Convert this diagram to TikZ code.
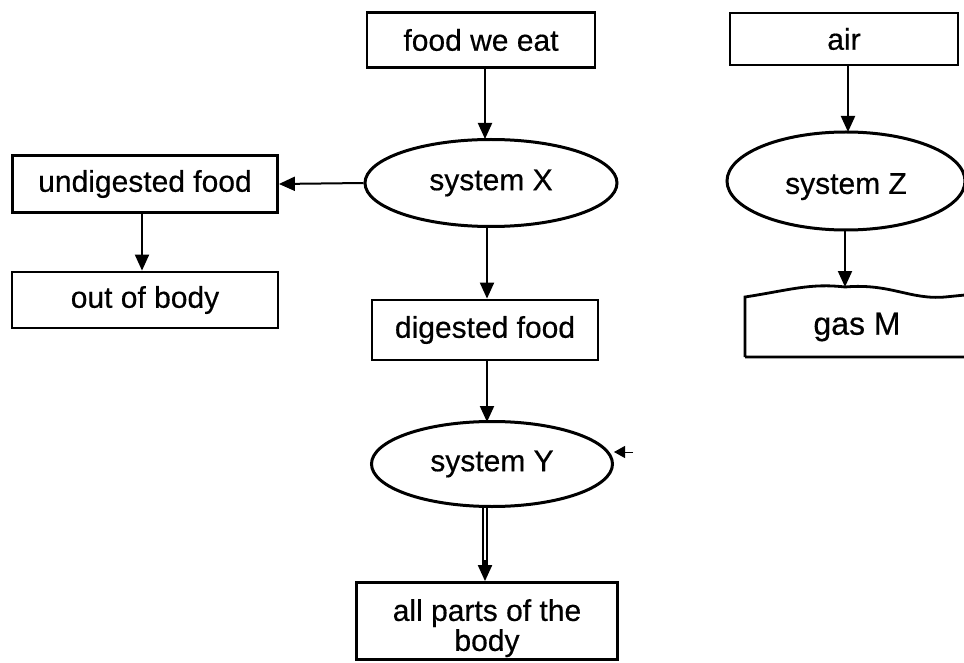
\documentclass[tikz,border=0pt]{standalone}
\usepackage{fontspec}
\setmainfont{Liberation Sans}
\newfontfamily\diagfont{Liberation Sans}[FakeBold=0.5]
\usetikzlibrary{shapes.geometric,arrows.meta}

\tikzset{
  box/.style={draw,line width=2.8pt,inner sep=0pt,align=center,
    font=\diagfont\fontsize{30}{30}\selectfont},
  sys/.style={draw,ellipse,line width=3pt,inner sep=0pt,
    font=\diagfont\fontsize{30}{32}\selectfont},
  flow/.style={line width=2pt,-{Triangle[length=16pt,width=14pt]}}
}

\begin{document}
\begin{tikzpicture}[x=1pt,y=-1pt]
    \useasboundingbox (0,0) rectangle (964,663);
    % digestion column
    \node[box,minimum width=228pt,minimum height=55pt](food) at (481,40){food we eat};
    \node[sys,minimum width=252pt,minimum height=87pt](sysX) at (491,183){system X};
    \node[box,minimum width=226pt,minimum height=60pt](digested) at (485,330){digested food};
    \node[sys,minimum width=241pt,minimum height=85pt](sysY) at (492,464){system Y};
    \node[box,minimum width=261pt,minimum height=77pt](body) at (487,621){\rule{0pt}{36pt}all parts of the\\body};
    % left side
    \node[box,minimum width=265pt,minimum height=57pt](undigested) at (145,184){undigested food};
    \node[box,minimum width=266pt,minimum height=56pt](out) at (145,300){out of body};
    % breathing column
    \node[box,minimum width=228pt,minimum height=52pt](air) at (844,39){air};
    \node[sys,minimum width=238pt,minimum height=98pt,text height=32pt](sysZ) at (846,181){system Z};
    \node[font=\diagfont\fontsize{32}{34}\selectfont,inner sep=0pt](gas) at (857,327){gas M};
    \coordinate (gastop) at (845,287);
    \draw[line width=2.8pt] (745,357) -- (745,297)
      .. controls (790,290) and (810,283) .. (gastop)
      .. controls (890,283) and (910,300) .. (945,297) -- (975,294)
      (745,357) -- (975,357);

    \draw[flow] (food.south -| 485,0) -- (485,139);
    \draw[flow] (sysX.west) -- (undigested.east);
    \draw[flow] (undigested.south -| 142,0) -- (out.north -| 142,0);
    \draw[flow] (sysX.south -| 487,0) -- (digested.north -| 487,0);
    \draw[flow] (digested.south -| 487,0) -- (487,422);
    \draw[line width=1.6pt,double distance=2.5pt] (sysY.south -| 485,0) -- (485,570);
    \draw[flow] (485,560) -- (body.north -| 485,0);
    \draw[line width=1pt,-{Triangle[length=11pt,width=12pt]}] (633,452) -- (sysY.east |- 633,452);
    \draw[flow] (air.south -| 848,0) -- (848,132);
    \draw[flow] (sysZ.south -| 845,0) -- (gastop);
\end{tikzpicture}
\end{document}
